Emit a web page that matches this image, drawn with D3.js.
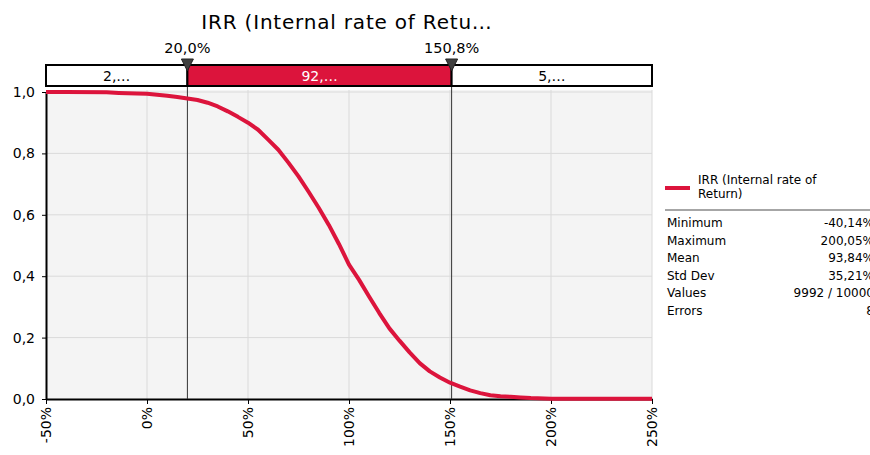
<!DOCTYPE html>
<html>
<head>
<meta charset="utf-8">
<script src="https://cdn.jsdelivr.net/npm/d3@7"></script>
<style>
  body { margin: 0; background: #fff; }
  svg { font-family: "DejaVu Sans", Verdana, sans-serif; }
</style>
</head>
<body>
<svg width="870" height="455"></svg>
<script>
// chart data
const chartTitle = "IRR (Internal rate of Retu…";
const seriesName = ["IRR (Internal rate of", "Return)"];
const irrPct = [-50, -40.1, -20, -14, -5, 0, 5, 10, 15, 20, 25, 30, 35, 40, 45, 50, 55, 60, 65, 70, 75,
  80, 85, 90, 95, 100, 105, 110, 115, 120, 125, 130, 135, 140, 145, 150, 155, 160, 165, 170, 175,
  180, 185, 190, 200.05, 250];
const probGreater = [1.000, 1.000, 0.999, 0.997, 0.995, 0.994, 0.991, 0.988, 0.984, 0.979, 0.974, 0.965, 0.953,
  0.937, 0.919, 0.900, 0.877, 0.845, 0.812, 0.770, 0.725, 0.675, 0.623, 0.567, 0.505, 0.438, 0.388,
  0.333, 0.280, 0.230, 0.190, 0.152, 0.117, 0.090, 0.070, 0.053, 0.040, 0.028, 0.019, 0.012, 0.009,
  0.007, 0.005, 0.003, 0.001, 0.001];
const xTicks = [-50, 0, 50, 100, 150, 200, 250];
const yTicks = [0, 0.2, 0.4, 0.6, 0.8, 1.0];
const markerValues = [20.0, 150.8];
const bandLabels = ["2,…", "92,…", "5,…"];
const statNames = ["Minimum", "Maximum", "Mean", "Std Dev", "Values", "Errors"];
const statValues = ["-40,14%", "200,05%", "93,84%", "35,21%", "9992 / 10000", "8"];

const red = "#DC143C";
const margin = {top: 92, right: 218, bottom: 56, left: 46};
const width = 870, height = 455;

const locale = d3.formatLocale({decimal: ",", thousands: ".", grouping: [3], currency: ["", ""], minus: "-"});
const fmt1 = locale.format(".1f");
const fmtPct = d => locale.format(".0f")(d) + "%";

const svg = d3.select("svg");

const x = d3.scaleLinear().domain([-50, 250]).range([margin.left, width - margin.right]);
const y = d3.scaleLinear().domain([0, 1]).range([height - margin.bottom, margin.top]);

// plot background
svg.append("rect")
  .attr("x", x(-50)).attr("y", y(1) - 2)
  .attr("width", x(250) - x(-50)).attr("height", y(0) - y(1) + 2)
  .attr("fill", "#f4f4f4");

// grid
svg.append("g").selectAll("line").data(xTicks.slice(1)).join("line")
  .attr("x1", d => x(d)).attr("x2", d => x(d))
  .attr("y1", y(1) - 2).attr("y2", y(0))
  .attr("stroke", "#dadada");
svg.append("g").selectAll("line").data(yTicks.slice(1)).join("line")
  .attr("x1", x(-50)).attr("x2", x(250))
  .attr("y1", d => y(d)).attr("y2", d => y(d))
  .attr("stroke", "#dadada");

// axes
const xAxis = svg.append("g")
  .attr("transform", `translate(0,${y(0)})`)
  .call(d3.axisBottom(x).tickValues(xTicks).tickFormat(fmtPct).tickSize(5).tickSizeOuter(0));
xAxis.selectAll("text")
  .attr("transform", "rotate(-90)")
  .attr("x", -8).attr("y", 0).attr("dy", "0.35em")
  .attr("text-anchor", "end");

const yAxis = svg.append("g")
  .attr("transform", `translate(${x(-50)},0)`)
  .call(d3.axisLeft(y).tickValues(yTicks).tickFormat(fmt1).tickSize(4).tickSizeOuter(0));
yAxis.selectAll("text").attr("x", -11);

svg.selectAll(".tick text").attr("font-size", 14).attr("fill", "#000")
  .attr("font-family", "DejaVu Sans, sans-serif");
svg.selectAll(".domain").attr("stroke", "#000").attr("stroke-width", 2);
svg.selectAll(".tick line").attr("stroke", "#000");

// marker lines
svg.append("g").selectAll("line").data(markerValues).join("line")
  .attr("x1", d => x(d)).attr("x2", d => x(d))
  .attr("y1", 86).attr("y2", y(0))
  .attr("stroke", "#333").attr("stroke-width", 1);

// curve
const line = d3.line().x((d, i) => x(irrPct[i])).y(d => y(d));
svg.append("path")
  .datum(probGreater)
  .attr("d", line)
  .attr("fill", "none")
  .attr("stroke", red)
  .attr("stroke-width", 4)
  .attr("stroke-linejoin", "round");

// band above plot
const bandEdges = [-50, markerValues[0], markerValues[1], 250];
const band = svg.append("g");
band.selectAll("rect").data(bandLabels).join("rect")
  .attr("x", (d, i) => x(bandEdges[i]))
  .attr("y", 65)
  .attr("width", (d, i) => x(bandEdges[i + 1]) - x(bandEdges[i]))
  .attr("height", 21)
  .attr("fill", (d, i) => i === 1 ? red : "#fff")
  .attr("stroke", "#000").attr("stroke-width", 2);
band.selectAll("text").data(bandLabels).join("text")
  .attr("x", (d, i) => (x(bandEdges[i]) + x(bandEdges[i + 1])) / 2)
  .attr("y", 81)
  .attr("text-anchor", "middle")
  .attr("font-size", 14)
  .attr("fill", (d, i) => i === 1 ? "#fff" : "#000")
  .text(d => d);

// marker triangles + labels
const mk = svg.append("g").selectAll("g").data(markerValues).join("g")
  .attr("transform", d => `translate(${x(d)},0)`);
mk.append("path")
  .attr("d", "M-6,59 L6,59 L0,71 Z")
  .attr("fill", "#404040").attr("stroke", "#222");
mk.append("text")
  .attr("y", 53)
  .attr("text-anchor", "middle")
  .attr("font-size", 14.5)
  .text(d => fmt1(d) + "%");

// title
svg.append("text")
  .attr("x", 347).attr("y", 29)
  .attr("text-anchor", "middle")
  .attr("font-size", 20)
  .attr("letter-spacing", 0.8)
  .text(chartTitle);

// legend
const lg = svg.append("g");
lg.append("line")
  .attr("x1", 665).attr("x2", 690).attr("y1", 188).attr("y2", 188)
  .attr("stroke", red).attr("stroke-width", 4);
lg.selectAll("text.name").data(seriesName).join("text")
  .attr("class", "name")
  .attr("x", 698).attr("y", (d, i) => 184 + i * 14)
  .attr("font-size", 12)
  .text(d => d);
lg.append("line")
  .attr("x1", 665).attr("x2", 870).attr("y1", 210).attr("y2", 210)
  .attr("stroke", "#888").attr("stroke-width", 1.5);

const stats = svg.append("g").selectAll("g").data(statNames).join("g")
  .attr("transform", (d, i) => `translate(0,${227 + i * 17.6})`);
stats.append("text")
  .attr("x", 667).attr("font-size", 12)
  .text(d => d);
stats.append("text")
  .attr("x", 874).attr("font-size", 12)
  .attr("text-anchor", "end")
  .text((d, i) => statValues[i]);
</script>
</body>
</html>
